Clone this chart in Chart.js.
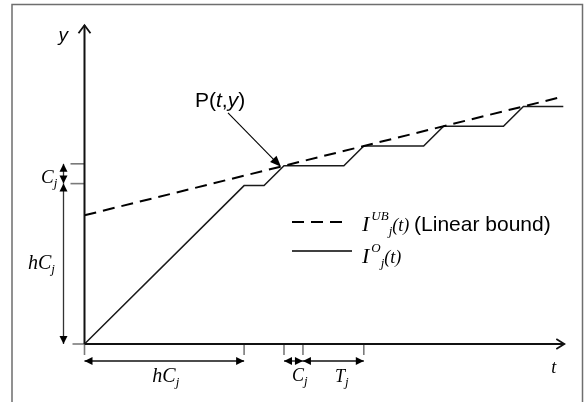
<!DOCTYPE html>
<html>
<head>
<meta charset="utf-8">
<script src="https://cdn.jsdelivr.net/npm/chart.js@4"></script>
<style>
  html, body { margin: 0; padding: 0; background: #fff; }
  canvas { display: block; }
</style>
</head>
<body>
<canvas id="chart" width="584" height="402"></canvas>
<script>
// linear bound I^UB_j(t)
const boundT = [0, 24];
const boundY = [6.5, 12.5];
// actual interference I^O_j(t)
const stepT = [0, 8, 9, 10, 13, 14, 17, 18, 21, 22, 24];
const stepY = [0, 8, 8, 9, 9, 10, 10, 11, 11, 12, 12];
// axis marks
const tTicks = [0, 8, 10, 10.95, 14];
const yTicks = [0, 8.1, 9.1];
const tAxisEnd = 24.05;
const yAxisEnd = 16.1;
// dimension arrows
const tDimFrom = [0, 10, 10.95];
const tDimTo = [8, 10.95, 14];
const tDimLabel = ['hC', 'C', 'T'];
const yDimFrom = [8.1, 0];
const yDimTo = [9.1, 8.1];
const yDimLabel = ['C', 'hC'];
const pointP = [10, 9];

const SERIF = "'Liberation Serif', 'Times New Roman', serif";
const SANS = "'Liberation Sans', Arial, sans-serif";

function toPoints(xs, ys) {
  return xs.map((x, i) => ({ x: x, y: ys[i] }));
}

function head(ctx, x, y, ang, len, half) {
  ctx.save();
  ctx.translate(x, y);
  ctx.rotate(ang);
  ctx.beginPath();
  ctx.moveTo(0, 0);
  ctx.lineTo(-len, -half);
  ctx.lineTo(-len, half);
  ctx.closePath();
  ctx.fill();
  ctx.restore();
}

function dimArrow(ctx, x1, y1, x2, y2) {
  const ang = Math.atan2(y2 - y1, x2 - x1);
  ctx.beginPath();
  ctx.moveTo(x1, y1);
  ctx.lineTo(x2, y2);
  ctx.stroke();
  head(ctx, x2, y2, ang, 8, 4);
  head(ctx, x1, y1, ang + Math.PI, 8, 4);
}

// draws a run of text pieces: [text, size, dy, italic, family]
function mathText(ctx, pieces, x, y) {
  let cx = x;
  pieces.forEach((p) => {
    ctx.font = (p[3] ? 'italic ' : '') + p[1] + 'px ' + (p[4] || SERIF);
    ctx.fillText(p[0], cx, y + p[2]);
    cx += ctx.measureText(p[0]).width + (p[5] || 0);
  });
  return cx;
}

const sketchPlugin = {
  id: 'sketch',
  afterDraw(chart) {
    const ctx = chart.ctx;
    const xs = chart.scales.x;
    const ys = chart.scales.y;
    const px = (v) => xs.getPixelForValue(v);
    const py = (v) => ys.getPixelForValue(v);
    const ox = px(0);
    const oy = py(0);

    ctx.save();
    ctx.textBaseline = 'alphabetic';
    ctx.fillStyle = '#000';

    // frame
    ctx.strokeStyle = '#6e6e6e';
    ctx.lineWidth = 1.5;
    ctx.strokeRect(12, 4.5, 570.5, 430);

    // tick marks
    ctx.strokeStyle = '#7a7a7a';
    ctx.lineWidth = 1.6;
    tTicks.forEach((t) => {
      ctx.beginPath();
      ctx.moveTo(px(t), oy);
      ctx.lineTo(px(t), oy + 11);
      ctx.stroke();
    });
    yTicks.forEach((v, i) => {
      ctx.beginPath();
      ctx.moveTo(ox - (i === 0 ? 12 : 14), py(v));
      ctx.lineTo(ox, py(v));
      ctx.stroke();
    });

    // axes
    ctx.strokeStyle = '#111';
    ctx.lineWidth = 2;
    ctx.beginPath();
    ctx.moveTo(ox, oy);
    ctx.lineTo(ox, py(yAxisEnd));
    ctx.moveTo(ox, oy);
    ctx.lineTo(px(tAxisEnd), oy);
    ctx.stroke();
    ctx.lineWidth = 1.8;
    ctx.beginPath();
    ctx.moveTo(ox - 6, py(yAxisEnd) + 8);
    ctx.lineTo(ox, py(yAxisEnd));
    ctx.lineTo(ox + 6, py(yAxisEnd) + 8);
    ctx.moveTo(px(tAxisEnd) - 8, oy - 5);
    ctx.lineTo(px(tAxisEnd), oy);
    ctx.lineTo(px(tAxisEnd) - 8, oy + 5);
    ctx.stroke();

    // dimension arrows along t
    ctx.strokeStyle = '#111';
    ctx.lineWidth = 1.3;
    const dimY = oy + 17;
    tDimFrom.forEach((a, i) => dimArrow(ctx, px(a), dimY, px(tDimTo[i]), dimY));
    // dimension arrows along y
    const dimX = ox - 21;
    ctx.strokeStyle = '#333';
    yDimFrom.forEach((a, i) => dimArrow(ctx, dimX, py(yDimTo[i]), dimX, py(a)));

    // t dimension labels
    const tOff = [-12, 8, 32];
    const tBase = [38, 37, 38];
    const tSize = [20, 18, 18];
    tDimLabel.forEach((lab, i) => {
      mathText(ctx, [[lab, tSize[i], 0, true], ['j', 13, 4, true]], px(tDimFrom[i]) + (i === 0 ? (px(tDimTo[i]) - px(tDimFrom[i])) / 2 : 0) + tOff[i], oy + tBase[i]);
    });
    // y dimension labels
    mathText(ctx, [[yDimLabel[0], 19, 0, true], ['j', 13, 4, true]], 41, py(yDimTo[0]) + 19);
    mathText(ctx, [[yDimLabel[1], 20, 0, true], ['j', 13, 4, true]], 28, (py(yDimFrom[1]) + py(yDimTo[1])) / 2 + 5);

    // axis names
    ctx.font = 'italic 19px ' + SANS;
    ctx.fillText('y', ox - 26, py(yAxisEnd) + 16);
    ctx.font = 'italic 18px ' + SERIF;
    ctx.fillText('t', px(tAxisEnd) - 13, oy + 29);

    // P(t,y) callout
    const pxP = px(pointP[0]);
    const pyP = py(pointP[1]);
    mathText(ctx, [['P(', 21, 0, false, SANS], ['t', 21, 0, true, SANS], [',', 21, 0, false, SANS], ['y', 21, 0, true, SANS], [')', 21, 0, false, SANS]], pxP - 89, pyP - 59);
    ctx.strokeStyle = '#000';
    ctx.lineWidth = 1.1;
    const sx = pxP - 56, sy = pyP - 53, ex = pxP - 3, ey = pyP + 1;
    ctx.beginPath();
    ctx.moveTo(sx, sy);
    ctx.lineTo(ex - 6, ey - 6);
    ctx.stroke();
    head(ctx, ex, ey, Math.atan2(ey - sy, ex - sx), 11, 4.5);

    // legend
    const lx = 292;
    ctx.strokeStyle = '#000';
    ctx.lineWidth = 2;
    ctx.setLineDash([12, 7]);
    ctx.beginPath();
    ctx.moveTo(lx, 222);
    ctx.lineTo(lx + 52, 222);
    ctx.stroke();
    ctx.setLineDash([]);
    ctx.lineWidth = 1.6;
    ctx.beginPath();
    ctx.moveTo(lx, 251);
    ctx.lineTo(lx + 60, 251);
    ctx.stroke();
    let endX = mathText(ctx, [['I', 22, 0, true, SERIF, 2], ['UB', 13, -11, true], ['j', 13, 4, true], ['(t)', 18, 0, true]], 362, 231);
    ctx.font = '21px ' + SANS;
    ctx.fillText(' (Linear bound)', endX - 1, 231);
    mathText(ctx, [['I', 22, 0, true, SERIF, 2], ['O', 13, -11, true], ['j', 13, 4, true], ['(t)', 18, 0, true]], 362, 263);

    ctx.restore();
  },
};

new Chart(document.getElementById('chart'), {
  type: 'scatter',
  data: {
    datasets: [
      {
        label: 'Linear bound',
        data: toPoints(boundT, boundY),
        showLine: true,
        borderColor: '#000',
        borderWidth: 2,
        borderDash: [12, 7],
        pointRadius: 0,
      },
      {
        label: 'I_O',
        data: toPoints(stepT, stepY),
        showLine: true,
        borderColor: '#1a1a1a',
        borderWidth: 1.5,
        pointRadius: 0,
      },
    ],
  },
  options: {
    responsive: false,
    animation: false,
    devicePixelRatio: 1,
    layout: { padding: 0 },
    plugins: {
      legend: { display: false },
      tooltip: { enabled: false },
    },
    scales: {
      x: { type: 'linear', display: false, min: -84.5 / 19.95, max: (584 - 84.5) / 19.95 },
      y: { type: 'linear', display: false, min: -58 / 19.8, max: 344 / 19.8 },
    },
  },
  plugins: [sketchPlugin],
});
</script>
</body>
</html>
